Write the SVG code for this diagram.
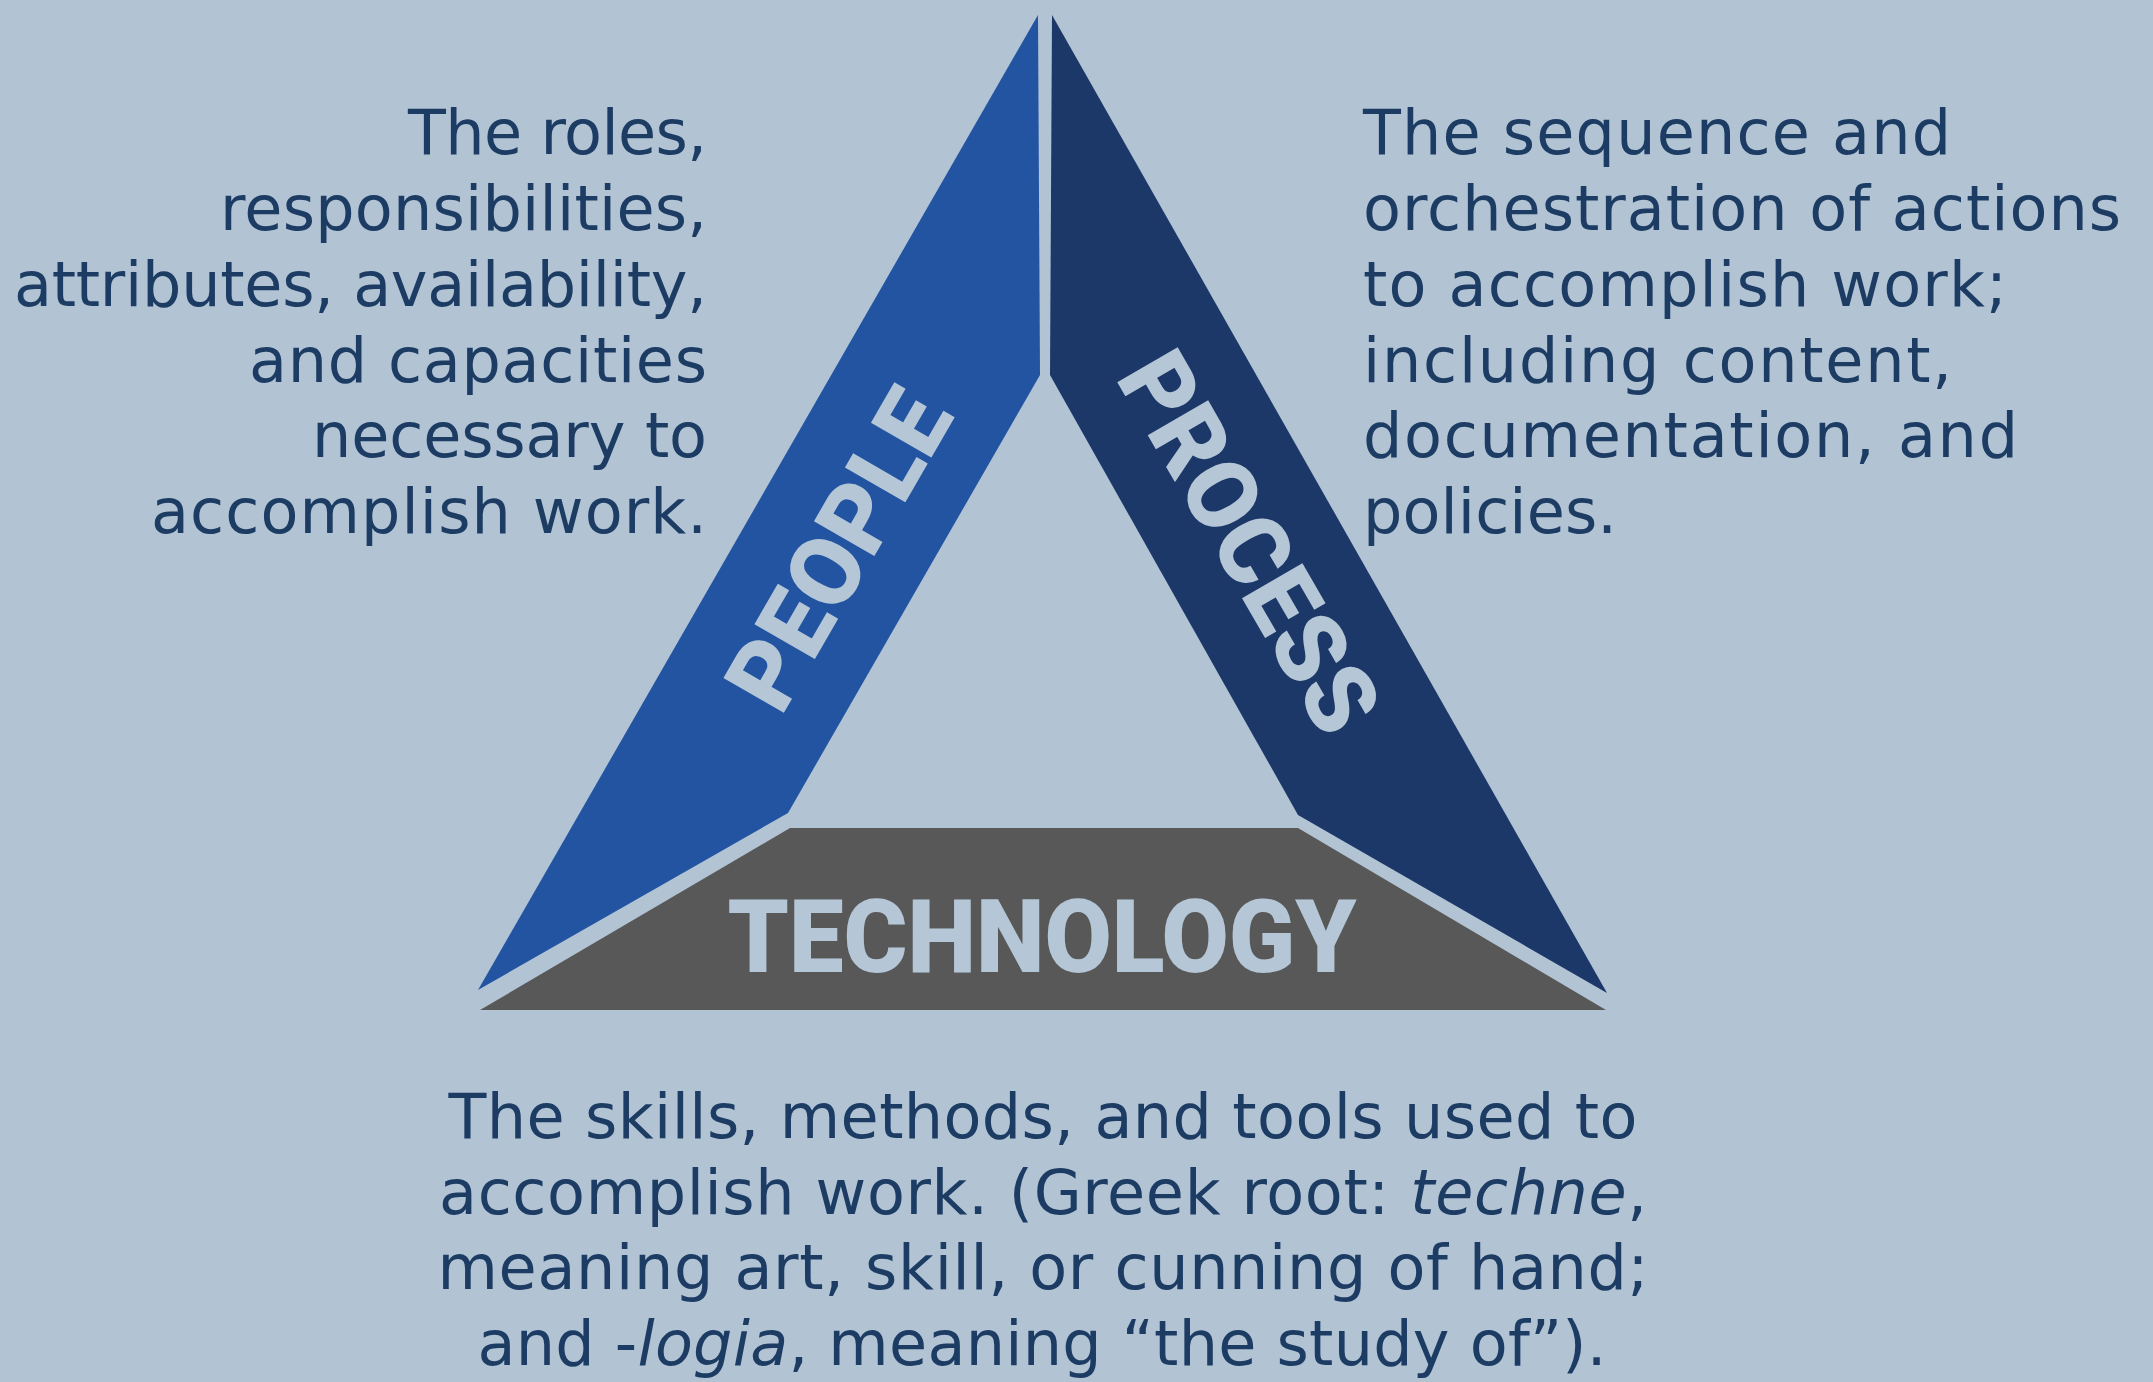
<svg xmlns="http://www.w3.org/2000/svg" width="2153" height="1382" viewBox="0 0 2153 1382">
<style>
.desc{font-family:"DejaVu Sans","Liberation Sans",sans-serif;font-size:62px;fill:#1d3c64;}
.lbl{font-family:Roboto,"Liberation Sans",sans-serif;font-weight:900;fill:#b5c7d7;}
</style>
<rect width="2153" height="1382" fill="#b2c4d4"/>
<g id="people">
<polygon points="1038,15 1040,375 788,813 478,990" fill="#2354a2"/>
<text class="lbl" font-size="98" text-anchor="middle" transform="translate(838,549) rotate(-60)" y="35" textLength="348" lengthAdjust="spacingAndGlyphs">PEOPLE</text>
<g class="desc" text-anchor="end" lengthAdjust="spacing">
<text x="707" y="154" textLength="299">The roles,</text>
<text x="707" y="230" textLength="487">responsibilities,</text>
<text x="707" y="306" textLength="693">attributes, availability,</text>
<text x="707" y="382" textLength="458">and capacities</text>
<text x="707" y="457" textLength="395">necessary to</text>
<text x="707" y="533" textLength="556">accomplish work.</text>
</g>
</g>
<g id="process">
<polygon points="1052,15 1607,993 1298,815 1050,375" fill="#1b3868"/>
<text class="lbl" font-size="98" text-anchor="middle" transform="translate(1250,542) rotate(60)" y="35" textLength="420" lengthAdjust="spacingAndGlyphs">PROCESS</text>
<g class="desc">
<text x="1363" y="154" textLength="588">The sequence and</text>
<text x="1363" y="230" textLength="758">orchestration of actions</text>
<text x="1363" y="306" textLength="644">to accomplish work;</text>
<text x="1363" y="382" textLength="589">including content,</text>
<text x="1363" y="457" textLength="655">documentation, and</text>
<text x="1363" y="533" textLength="254">policies.</text>
</g>
</g>
<g id="technology">
<polygon points="790,828 1298,828 1606,1010 480,1010" fill="#585858"/>
<text class="lbl" font-size="102" x="1042" y="972" text-anchor="middle" textLength="629" lengthAdjust="spacingAndGlyphs">TECHNOLOGY</text>
<g class="desc" text-anchor="middle">
<text x="1043" y="1138" textLength="1189">The skills, methods, and tools used to</text>
<text x="1043" y="1214" textLength="1208">accomplish work. (Greek root: <tspan font-style="italic">techne</tspan>,</text>
<text x="1043" y="1289" textLength="1211">meaning art, skill, or cunning of hand;</text>
<text x="1042" y="1365" textLength="1129">and -<tspan font-style="italic">logia</tspan>, meaning “the study of”).</text>
</g>
</g>
<g id="connectors"></g>
</svg>
